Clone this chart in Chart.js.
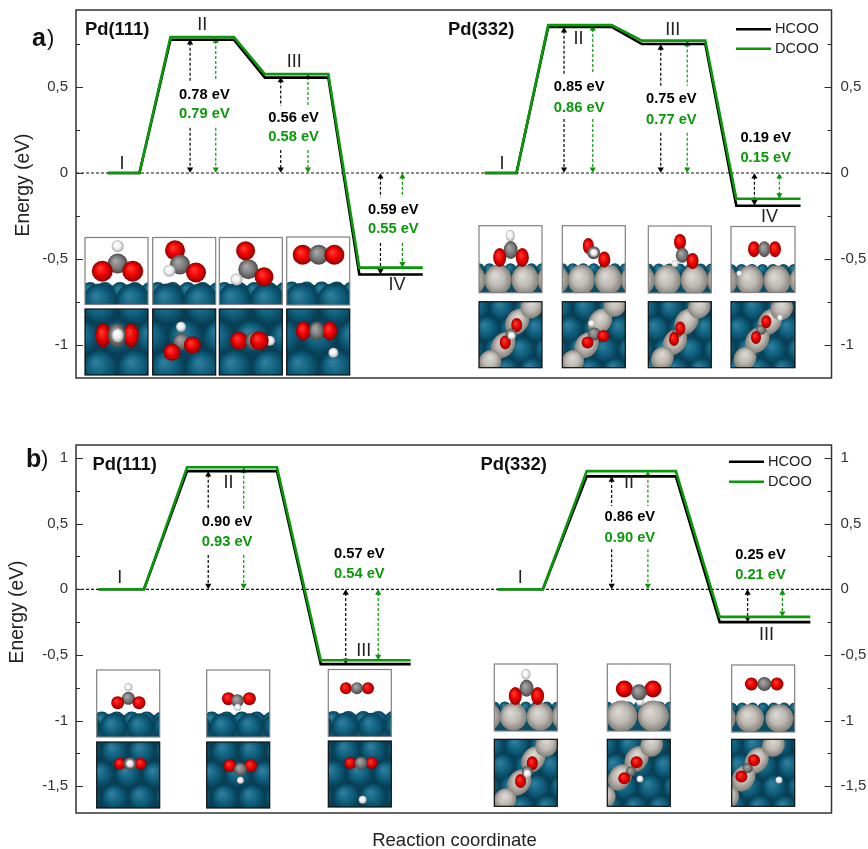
<!DOCTYPE html>
<html><head><meta charset="utf-8">
<script src="https://cdn.jsdelivr.net/npm/chart.js@4"></script>
<style>html,body{margin:0;padding:0;background:#fff;width:868px;height:849px;overflow:hidden}
canvas{position:absolute;left:0}</style></head>
<body>
<canvas id="ca" width="868" height="400" style="top:0"></canvas>
<canvas id="cb" width="868" height="449" style="top:400px"></canvas>
<script>
// ---------- DATA: reaction coordinate (0-100) and energies (eV) ----------
const a111X=[4.2,8.4,12.5,20.9,25.0,33.4,37.5,45.9];
const a111HCOO=[0,0,0.775,0.775,0.555,0.555,-0.59,-0.59];
const a111DCOO=[0,0,0.79,0.79,0.575,0.575,-0.55,-0.55];
const a332X=[54.1,58.3,62.5,70.9,74.9,83.3,87.4,95.9];
const a332HCOO=[0,0,0.85,0.85,0.75,0.75,-0.19,-0.19];
const a332DCOO=[0,0,0.86,0.86,0.77,0.77,-0.15,-0.15];
const b111X=[3.0,9.0,14.7,26.6,32.4,44.3];
const b111HCOO=[0,0,0.90,0.90,-0.57,-0.57];
const b111DCOO=[0,0,0.93,0.93,-0.54,-0.54];
const b332X=[55.8,61.8,67.6,79.4,85.2,97.2];
const b332HCOO=[0,0,0.86,0.86,-0.25,-0.25];
const b332DCOO=[0,0,0.90,0.90,-0.21,-0.21];
const seriesNames=['HCOO','DCOO'];
const yTicksA=[-1,-0.75,-0.5,-0.25,0,0.25,0.5,0.75];
const yTicksB=[-1.5,-1.25,-1,-0.75,-0.5,-0.25,0,0.25,0.5,0.75,1];
// arrows: [x, end energy, gapHigh, gapLow, series]
const arrowsA=[[15.1,.78,.535,.263,0],[18.5,.79,.535,.263,1],[27.1,.56,.39,.134,0],[30.7,.58,.39,.134,1],
 [40.3,-.59,-.141,-.407,0],[43.2,-.55,-.141,-.407,1],[64.6,.85,.576,.314,0],[68.4,.86,.576,.314,1],
 [77.4,.75,.508,.234,0],[80.9,.77,.508,.234,1],[89.8,-.19,null,null,0],[93.1,-.15,null,null,1]];
const arrowsB=[[17.5,.90,.604,.261,0],[22.2,.93,.604,.261,1],[35.7,-.57,null,null,0],[40.0,-.54,null,null,1],
 [70.9,.86,.634,.305,0],[75.7,.90,.634,.305,1],[88.9,-.25,null,null,0],[93.5,-.21,null,null,1]];
// barrier labels: [x, y, text, series]
const notesA=[[17,.455,'0.78 eV',0],[17,.341,'0.79 eV',1],[28.8,.322,'0.56 eV',0],[28.8,.208,'0.58 eV',1],
 [42,-.213,'0.59 eV',0],[42,-.326,'0.55 eV',1],[66.6,.498,'0.85 eV',0],[66.6,.38,'0.86 eV',1],
 [78.8,.428,'0.75 eV',0],[78.8,.308,'0.77 eV',1],[91.3,.203,'0.19 eV',0],[91.3,.087,'0.15 eV',1]];
const notesB=[[20,.515,'0.90 eV',0],[20,.363,'0.93 eV',1],[37.5,.267,'0.57 eV',0],[37.5,.114,'0.54 eV',1],
 [73.3,.548,'0.86 eV',0],[73.3,.393,'0.90 eV',1],[90.6,.261,'0.25 eV',0],[90.6,.107,'0.21 eV',1]];
// state labels: [x, y, text]
const statesA=[[6.1,.052,'I'],[16.7,.86,'II'],[28.9,.645,'III'],[42.5,-.651,'IV'],[56.4,.052,'I'],[66.5,.779,'II'],[79,.831,'III'],[91.8,-.256,'IV']];
const statesB=[[5.8,.086,'I'],[20.2,.812,'II'],[38.1,-.468,'III'],[58.8,.086,'I'],[73.2,.81,'II'],[91.4,-.348,'III']];

// ---------- INSET ILLUSTRATIONS (decorative atom sketches, tile-local) ----------
const silverA=[['A',-7,54,13.5,15],['A',19,54,13.5,15],['A',46,54,13.5,15],['A',72,54,13.5,15]];
function sv(x1,y1,x2,y2,x3,y3,x4,y4){return [['S',x1,y1,11,14],['S',x2,y2,11,14],['S',x3,y3,11,12],['S',x4,y4,11,12]];}
const tilesA=[
 [85,237.5,63,67,'side1',[['H',32.7,8.7,6],['C',32.7,26,10],['O',17.3,33.7,10.5],['O',47.7,33.7,10.5]]],
 [152.7,237.5,63,67,'side1',[['O',22.3,12.7,10],['C',27.3,27,10],['H',16.7,33.3,6],['O',43.3,35,10]]],
 [219.3,237.5,63,67,'side1',[['O',26.3,13.3,9.5],['C',29,31.7,10],['H',17.3,42,6],['O',44.7,39.3,9.5]]],
 [286.7,237,63,68,'side1',[['O',16,17.7,10],['C',32,17.7,10],['O',47.7,17.7,10]]],
 [85,309,63,66,'top1',[['O',18.3,26.3,8,12],['O',46,26.3,8,12],['C',32,26.3,9,12],['H',32.7,26.3,6,7]]],
 [152.7,309,63,66,'top1',[['H',28.3,17.7,5],['C',29,32.7,8.5],['O',19.3,43.3,8.5],['O',39.7,36,8.5]]],
 [219.3,309,63,66,'top1',[['O',19.7,31.7,9],['H',50.7,31.7,5],['C',35.7,31.7,9.5],['O',40,31.7,9.5]]],
 [286.7,309,63,66,'top1',[['O',16.7,22,7.5,9.5],['O',43,22,7.5,9.5],['C',30,22,7.5,9.5],['H',46.7,43.7,5]]],
 [479,225.7,63,67,'side2',silverA.concat([['H',31.3,10,4.5,6],['C',31.7,24.3,7,9],['O',20.7,31.7,6.5,9.5],['O',43.3,31.7,6.5,9.5]])],
 [562.3,225.7,63,67,'side2',silverA.concat([['O',26,20.3,5.5,8],['C',31.3,27,6.5],['H',31.6,27,4],['O',42,33.7,6,8]])],
 [648.3,226,63,67,'side2',silverA.concat([['O',31.7,16,6,8],['C',34,29.3,6.5,7.5],['H',26.7,37.7,3.5],['O',44.3,35,6,8]])],
 [731,226.5,64,66,'side2',silverA.concat([['O',23,22.7,6,8],['O',44,22.7,6,8],['C',33.3,22.7,6,8],['H',8.3,47,3]])],
 [479,301.7,63,66,'top2',sv(38.3,20,24.3,43.3,11,60,52.7,5).concat([['O',37.7,23.3,5.5,7],['O',26.3,40.7,5.5,7],['C',32,32.3,5.5],['H',32.7,34,4]])],
 [562.3,301.7,63,66,'top2',sv(37.7,20,24.3,43.3,10.3,60,52.7,3.3).concat([['H',29.3,21.7,3.5],['C',32,32.3,6.5],['O',41,34.3,6],['O',25.3,40.7,6]])],
 [648.3,301.7,63,66,'top2',sv(38.3,20,26.7,40,14,56.7,51,5).concat([['C',29,31,5],['O',32,26.7,5,7],['O',25.7,37.3,5,7]])],
 [731,301.7,64,66,'top2',sv(39,20,26.3,38.3,14,56.7,50.7,6.7).concat([['C',30,28.3,5],['O',35.3,20,5,6.5],['O',25,35.7,5,6.5],['H',49,16,3]])]
];
const silverB1=[['A',-7,52.7,13.5,14],['A',19,52.7,13.5,14],['A',45.7,52.7,13.5,14],['A',71,52.7,13.5,14]];
const silverB2=[['A',14.3,52,15.5,15.5],['A',46,52,15.5,15.5]];
const silverB3=[['A',-10,53.3,14,14],['A',18.3,53.3,14,14],['A',47.7,53.3,14,14],['A',76,53.3,14,14]];
const tilesB=[
 [96.7,670,63,67,'side3',[['H',31.7,17.3,4],['C',31.7,28.3,6.5],['O',21,32.7,6.5],['O',42.3,32.7,6.5]]],
 [206.7,670,63,67,'side3',[['O',21.7,28.7,6.5],['O',42.7,28.7,6.5],['C',30.7,30.7,6.5],['H',31,37.3,3.5]]],
 [328.3,669.5,63,67,'side3',[['O',17.7,18.7,6],['O',39.7,18.7,6],['C',28.7,18.7,6]]],
 [96.7,742,63,66,'top3',[['O',23.3,21.7,6],['O',44,21.7,6],['C',33.3,21.7,6.5],['H',33.3,21.7,4]]],
 [206.7,742,63,66,'top3',[['O',23.3,23.7,6.5],['O',44,23.7,6.5],['C',33.7,27.3,6.5],['H',33.7,38.3,3.5]]],
 [328.3,741,63,66,'top3',[['O',22,22,6],['O',43.3,22,6],['C',32.7,22,6.5],['H',34.3,58.7,4]]],
 [494.3,664,63,67,'side2',silverB1.concat([['H',31.7,10.3,4.5,5.5],['C',32.3,24.3,7,8.5],['O',21,32,6.5,9],['O',43.3,32,6.5,9]])],
 [607.3,664,63,67,'side2',[['H',32.7,37.7,4]].concat(silverB2,[['O',17,25,8.5],['O',45.7,25,8.5],['C',31.7,28.3,8]])],
 [731.7,665,63,67,'side2',silverB3.concat([['O',19.7,19,6.5],['O',45.3,19,6.5],['C',32.7,19,7]])],
 [494.3,739.3,63,67,'top2',sv(39,20,25,43,10.7,60.7,52.3,5.7).concat([['O',38,24,5.5,7],['O',26.3,41.7,5.5,7],['C',33,32.3,5.5],['H',33,34.3,4]])],
 [607.3,739.3,63,67,'top2',sv(29.3,19.7,12.7,38,-3,58,44.3,5.7).concat([['C',23.7,32.3,5],['O',29.3,23,6],['O',17,39,6],['H',32.7,39.7,3.5]])],
 [731.7,739.3,63,67,'top2',sv(25,21,11.7,39,-4,58,41.7,5.7).concat([['C',16,29,5],['O',22.3,21,6],['O',9.7,37.3,6],['H',47.3,40.7,3.5]])]
];

// ---------- RENDERING ----------
const BLACK='#000000', GREEN='#0a980a', INK='#2e2e2e';
const seriesColor=[BLACK,GREEN];
const FONT='"Liberation Sans", Arial, sans-serif';
const ATOM={O:['#ff3a30','#ee0000','#8c0000'],C:['#a8a8a8','#7e7e7e','#4a4a4a'],H:['#ffffff','#f0f0f0','#a8a8a8'],
 P:['#2f7f9c','#0f607e','#073f56'],A:['#dcd9d4','#bdb9b3','#858178'],S:['#dcd9d4','#bdb9b3','#858178']};
function atom(c,t,x,y,rx,ry){
 ry=ry||rx;const col=ATOM[t];c.save();c.translate(x,y);if(t==='S')c.rotate(.62);c.scale(rx,ry);
 const g=c.createRadialGradient(-.25,-.3,.05,0,0,1);g.addColorStop(0,col[0]);g.addColorStop(.55,col[1]);g.addColorStop(1,col[2]);
 c.fillStyle=g;c.beginPath();c.arc(0,0,1,0,Math.PI*2);c.fill();c.restore();
}
function hexGrid(c,R,offX,offY,w,h){
 c.fillStyle='#083f55';c.fillRect(0,0,w,h);
 const dy=R*1.72;let row=0;
 for(let y=offY;y<h+R;y+=dy,row++){for(let x=offX+(row%2?R:0)-2*R;x<w+R;x+=2*R){atom(c,'P',x,y,R*.98);}}
}
function skewGrid(c,w,h){
 c.fillStyle='#083f55';c.fillRect(0,0,w,h);
 for(let j=-1;j<5;j++){for(let i=-1;i<5;i++){atom(c,'P',i*25+j*10-2,j*21+6,12.5,13);}}
}
function drawTile(c,t,oy){
 const [x,y,w,h,kind,atoms]=t;c.save();c.translate(x,y-oy);
 c.beginPath();c.rect(0,0,w,h);c.save();c.clip();
 c.fillStyle='#fff';c.fillRect(0,0,w,h);
 if(kind==='side1'||kind==='side3'){
  const s=kind==='side1'?46:43,R=kind==='side1'?17:13.5,Y=kind==='side1'?63:56.7;
  c.fillStyle='#0a4f6a';c.fillRect(0,s+2,w,h);
  for(let i=0;i<5;i++)atom(c,'P',i*15+5,s+7,8.5);
  const xs=kind==='side1'?[-17,15,48,80]:[-10,16.7,43.3,70];
  xs.forEach(v=>atom(c,'P',v,Y,R));
 }else if(kind==='side2'){
  c.fillStyle='#0a4f6a';c.fillRect(0,41,w,h);
  for(let i=0;i<7;i++)atom(c,'P',i*10.5,43,5.5);
 }else if(kind==='top1'){hexGrid(c,17.5,15,-2,w,h);}
 else if(kind==='top3'){hexGrid(c,13.5,18,9,w,h);}
 else if(kind==='top2'){skewGrid(c,w,h);}
 atoms.forEach(a=>atom(c,a[0],a[1],a[2],a[3],a[4]));
 c.restore();
 c.lineWidth=1.2;c.strokeStyle=kind.startsWith('top')?'#111':'#808080';c.strokeRect(0,0,w,h);
 c.restore();
}
function levelSet(xs,ys,s){return {type:'line',label:seriesNames[s],data:xs.map((x,i)=>({x,y:ys[i]})),borderColor:seriesColor[s],
 borderWidth:2.6,pointRadius:0,tension:0,order:s?1:2,borderJoinStyle:'miter',borderCapStyle:'butt'};}
function arrowSet(a,inset){
 const [x,end,hi,lo,s]=a;const down=end<0;const e=end+(down?inset:-inset),z=down?-inset:inset;
 const top=down?z:e,bot=down?e:z;
 const pts=hi===null?[{x,y:top},{x,y:bot}]:[{x,y:top},{x,y:hi},{x,y:null},{x,y:lo},{x,y:bot}];
 const rad=pts.map((p,i)=>(i===0||i===pts.length-1)?3.6:0);
 const rot=pts.map((p,i)=>i===0?0:180);
 return {type:'line',data:pts,borderColor:seriesColor[s],backgroundColor:seriesColor[s],borderWidth:1.2,borderDash:[3,2],
  pointStyle:'triangle',pointRadius:rad,pointBorderWidth:0,pointRotation:rot,pointBackgroundColor:seriesColor[s],spanGaps:false,order:5};
}
function text(c,s,x,y,font,col,align){c.font=font;c.fillStyle=col;c.textAlign=align||'center';c.textBaseline='middle';c.fillText(s,x,y);}
function panelPlugin(o){return {id:'panel',
 afterDraw(ch){
  const c=ch.ctx,A=ch.chartArea,Y=ch.scales.y,X=ch.scales.x;c.save();
  c.strokeStyle=INK;c.lineWidth=1.2;
  Y.ticks.forEach(t=>{const p=Math.round(Y.getPixelForValue(t.value))+.5;const major=Math.abs(t.value*2-Math.round(t.value*2))<1e-6;const L=major?7:4;
   c.beginPath();c.moveTo(A.left,p);c.lineTo(A.left+L,p);c.moveTo(A.right,p);c.lineTo(A.right-L,p);c.stroke();});
  c.lineWidth=1.5;c.strokeStyle='#333';c.strokeRect(A.left,A.top,A.right-A.left,A.bottom-A.top);
  o.notes.forEach(n=>text(c,n[2],X.getPixelForValue(n[0]),Y.getPixelForValue(n[1]),'bold 14.7px '+FONT,seriesColor[n[3]]));
  o.states.forEach(n=>text(c,n[2],X.getPixelForValue(n[0]),Y.getPixelForValue(n[1]),'18px '+FONT,'#222'));
  o.tiles.forEach(t=>drawTile(c,t,o.oy));
  o.titles.forEach(n=>text(c,n[0],n[1],n[2],'bold 18.4px '+FONT,'#111','left'));
  text(c,o.tag,o.tagX,o.tagY,'bold 25px '+FONT,'#111','left');
  text(c,')',o.tagX+15,o.tagY,'22px '+FONT,'#111','left');
  seriesNames.forEach((nm,i)=>{const ly=o.legY+i*o.legDy;c.strokeStyle=seriesColor[i];c.lineWidth=2.6;c.beginPath();c.moveTo(o.legX,ly);c.lineTo(o.legX+35,ly);c.stroke();
   text(c,nm,o.legX+39,ly,'14.6px '+FONT,'#222','left');});
  c.save();c.translate(o.ylabX,o.ylabY);c.rotate(-Math.PI/2);text(c,'Energy (eV)',0,0,'19.3px '+FONT,'#222');c.restore();
  if(o.xlab)text(c,'Reaction coordinate',o.xlab[0],o.xlab[1],'18.5px '+FONT,'#222');
  c.restore();
 }};}
function fmt(v){return Math.abs(v*2-Math.round(v*2))<1e-6?String(v).replace('.',','):'';}
function yAxis(pos,min,max,arr,w,pad){return {type:'linear',position:pos,min,max,
 grid:{display:false,drawTicks:false},border:{display:false},
 afterBuildTicks(ax){ax.ticks=arr.map(v=>({value:v}));},
 afterFit(ax){ax.width=w;ax.paddingTop=0;ax.paddingBottom=0;},
 ticks:{callback:fmt,autoSkip:false,padding:pad,color:'#333',font:{family:FONT,size:15}}};}
function makeChart(id,cfg){
 const zero={type:'line',data:[{x:0,y:0},{x:100,y:0}],borderColor:'#111',borderWidth:1.2,borderDash:[3,2],pointRadius:0,order:6};
 const ds=[zero].concat(cfg.levels,cfg.arrows.map(a=>arrowSet(a,cfg.inset)));
 return new Chart(document.getElementById(id),{type:'line',data:{datasets:ds},
  options:{responsive:false,animation:false,devicePixelRatio:1,
   layout:{autoPadding:false,padding:{top:cfg.top,bottom:cfg.bottom,left:0,right:0}},
   plugins:{legend:{display:false},tooltip:{enabled:false}},
   scales:{x:{type:'linear',min:0,max:100,display:false},
    y:yAxis('left',cfg.min,cfg.max,cfg.ticks,76,8),
    yr:yAxis('right',cfg.min,cfg.max,cfg.ticks,36.5,9)}},
  plugins:[panelPlugin(cfg.panel)]});
}
makeChart('ca',{top:10,bottom:22,min:-1.192,max:0.948,ticks:yTicksA,inset:.022,
 levels:[levelSet(a111X,a111HCOO,0),levelSet(a111X,a111DCOO,1),levelSet(a332X,a332HCOO,0),levelSet(a332X,a332DCOO,1)],
 arrows:arrowsA,
 panel:{oy:0,notes:notesA,states:statesA,tiles:tilesA,titles:[['Pd(111)',85,30],['Pd(332)',448,30]],tag:'a',tagX:32,tagY:39,
  legX:736,legY:29.3,legDy:19.4,ylabX:24,ylabY:185}});
makeChart('cb',{top:45,bottom:36,min:-1.704,max:1.099,ticks:yTicksB,inset:.028,
 levels:[levelSet(b111X,b111HCOO,0),levelSet(b111X,b111DCOO,1),levelSet(b332X,b332HCOO,0),levelSet(b332X,b332DCOO,1)],
 arrows:arrowsB,
 panel:{oy:400,notes:notesB,states:statesB,tiles:tilesB,titles:[['Pd(111)',92.5,64.5],['Pd(332)',480.5,64.5]],tag:'b',tagX:26,tagY:60,
  legX:729,legY:61.7,legDy:20,ylabX:18,ylabY:212,xlab:[454.5,441]}});
</script>
</body></html>
